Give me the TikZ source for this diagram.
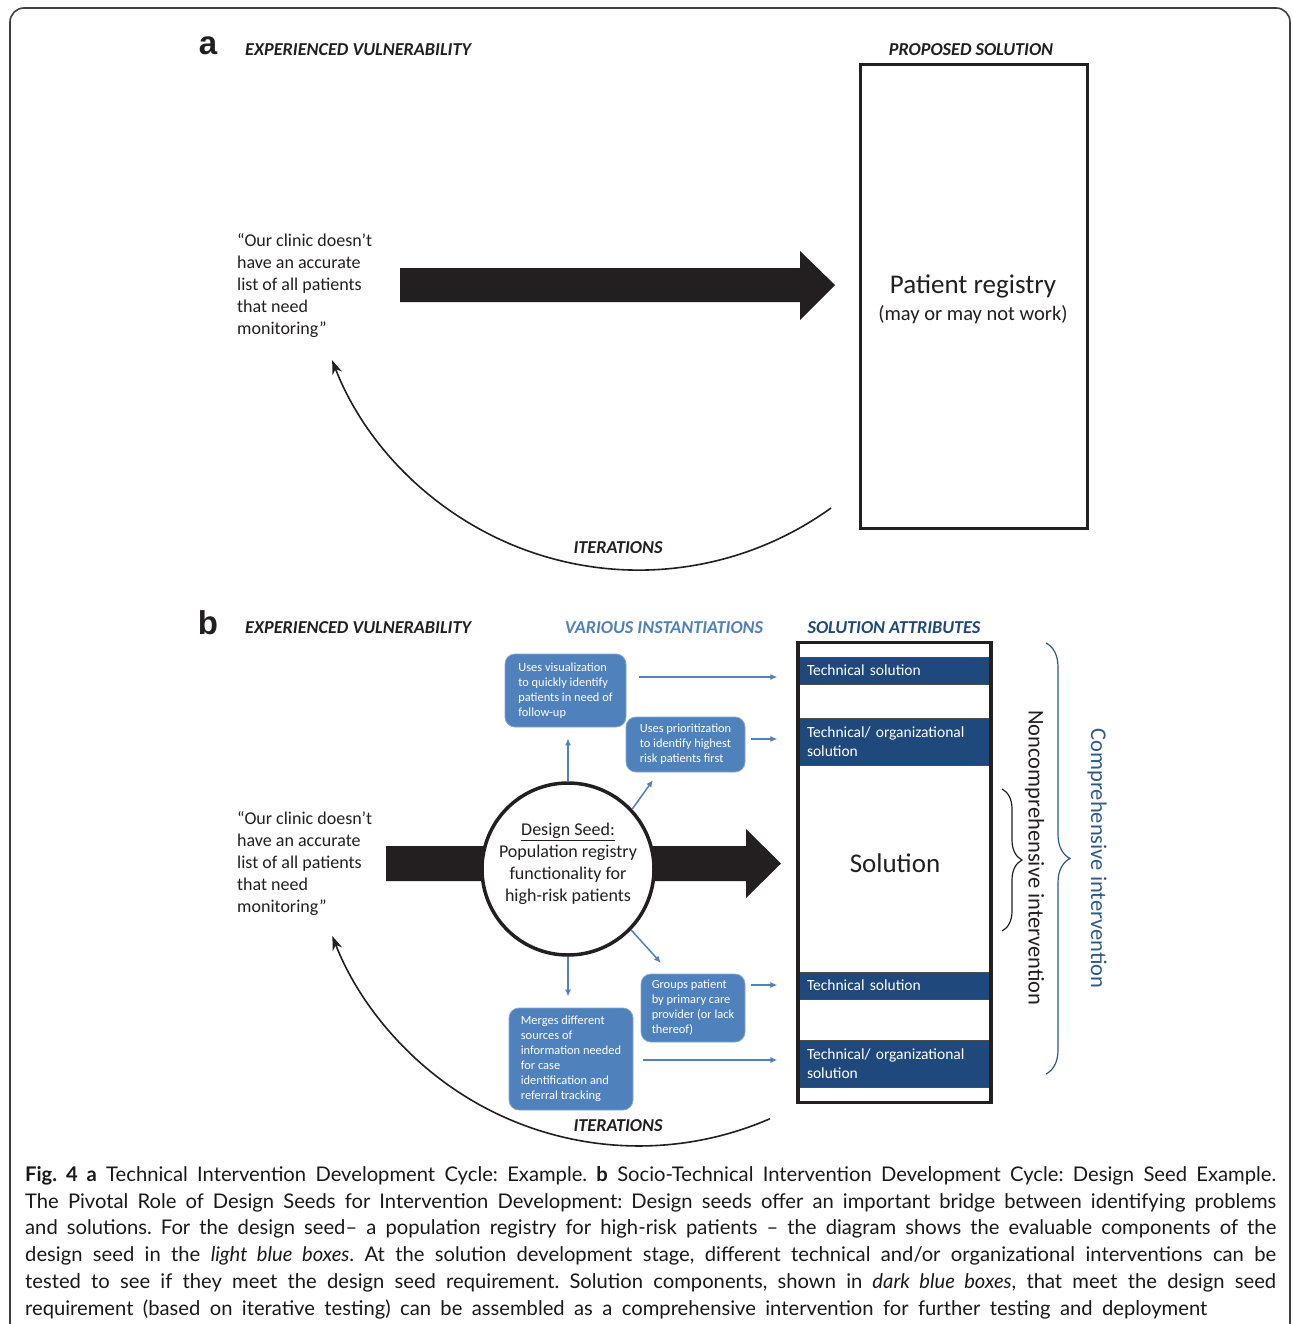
\documentclass[tikz,border=0pt]{standalone}
\usepackage{fontspec}
\setmainfont{Carlito}
\newfontfamily\arialf{Liberation Sans}
\newfontfamily\capf{Lato}
\usetikzlibrary{arrows.meta,decorations.pathreplacing,calc}
\definecolor{blueL}{HTML}{4F81BD}
\definecolor{blueD}{HTML}{1F497D}
\definecolor{blueC}{HTML}{2C5A8E}
\definecolor{ink}{HTML}{231F20}
\newcommand{\capline}[2]{\hbox to #1{\spaceskip=0pt\xspaceskip=0pt #2}}
\begin{document}
\begin{tikzpicture}[x=1pt,y=-1pt,
  frame/.style={draw=black!75, line width=1.6pt},
  panel/.style={font=\arialf\bfseries\fontsize{33}{36}\selectfont, inner sep=0, text=ink},
  hdr/.style={font=\fontsize{18.2}{20}\selectfont\bfseries\itshape, inner sep=0, text=ink},
  quote/.style={font=\fontsize{18}{22}\selectfont, align=left, inner sep=0, text=ink},
  iter/.style={draw=ink, line width=1.6pt, -{Stealth[length=14pt,width=10pt]}},
  blarrow/.style={draw=blueL, line width=1.5pt, -{Latex[length=7pt,width=6pt]}},
  lbox/.style={fill=blueL, draw=blueL!70!white, line width=0.8pt, rounded corners=10pt, text=white, align=left, inner sep=0, font=\fontsize{12.4}{15}\selectfont},
  bar/.style={fill=blueD, draw=black!70, line width=0.8pt, text=white, minimum width=193pt, text width=175pt, align=left, inner xsep=9pt, inner ysep=0pt, font=\fontsize{15.5}{19}\selectfont},
  brc/.style={line width=1.2pt, decorate},
  rlabel/.style={rotate=-90, inner sep=0, font=\fontsize{22.5}{26}\selectfont}
]
\useasboundingbox (0,0) rectangle (1292,1324);
\fill[white] (0,0) rectangle (1292,1324);
% outer frame
\draw[frame] (10,1340) -- (10,22) arc[start angle=180, end angle=270, radius=14] -- (1276,8) arc[start angle=270, end angle=360, radius=14] -- (1290,1340);

% ================= panel a =================
\node[panel] (lblA) at (208,46) {a};
\node[hdr, anchor=west] (hdrA) at (245,50) {EXPERIENCED VULNERABILITY};
\node[hdr] (propA) at (971,50) {PROPOSED SOLUTION};
\node[quote, anchor=west] (qa) at (237,285.5) {“Our clinic doesn’t\\have an accurate\\list of all patients\\that need\\monitoring”};
\node[draw=ink, line width=3pt, minimum width=227pt, minimum height=463pt, inner sep=0] (reg) at (973.5,296.5) {};
\node[inner sep=0, font=\fontsize{27}{30}\selectfont, text=ink] (regT1) at (973,286) {Patient registry};
\node[inner sep=0, font=\fontsize{20.5}{24}\selectfont, text=ink] (regT2) at (973,315) {(may or may not work)};
% big arrow a
\coordinate (bigA) at (400,285);
\fill[ink] (bigA) ++(0,-17) -- ++(400,0) -- ++(0,-17) -- (835,285) -- (800,320) -- (800,302) -- (400,302) -- cycle;
% iterations a
\coordinate (itA) at (831,508);
\draw[iter] (itA) arc[start angle=54.2, end angle=158.8, radius=328.8];
\node[hdr] (iterA) at (618,548) {ITERATIONS};

% ================= panel b =================
\node[panel] (lblB) at (208,623) {b};
\node[hdr, anchor=west] (hdrB) at (245,628) {EXPERIENCED VULNERABILITY};
\node[hdr, text=blueL] (instB) at (664,628) {VARIOUS INSTANTIATIONS};
\node[hdr, text=blueD] (attrB) at (894,628) {SOLUTION ATTRIBUTES};
\node[quote, anchor=west] (qb) at (237,863.5) {“Our clinic doesn’t\\have an accurate\\list of all patients\\that need\\monitoring”};
% big arrow b
\coordinate (bigB) at (386,863.5);
\fill[ink] (bigB) ++(0,-17.5) -- (746,846) -- (746,829) -- (781,863.5) -- (746,898) -- (746,881) -- (386,881) -- cycle;
% design seed
\node[circle, draw=ink, line width=3.5pt, fill=white, minimum size=172pt, inner sep=0] (seed) at (568,869) {};
\node[quote, align=center] (seedT) at (568,863.5) {\underline{Design Seed:}\\Population registry\\functionality for\\high-risk patients};

% light blue boxes
\node[lbox, minimum width=121pt, minimum height=73pt] (box1) at (565.5,690.5) {Uses visualization\\to quickly identify\\patients in need of\\follow-up};
\node[lbox, minimum width=119pt, minimum height=55pt] (box2) at (685.5,744.5) {Uses prioritization\\to identify highest\\risk patients first};
\node[lbox, minimum width=104pt, minimum height=68pt] (box3) at (693,1008) {Groups patient\\by primary care\\provider (or lack\\thereof)};
\node[lbox, minimum width=124pt, minimum height=102pt] (box4) at (571,1059) {Merges different\\sources of\\information needed\\for case\\identification and\\referral tracking};

% solution column
\node[bar, minimum height=27pt] (bar1) at (894.5,670.5) {Technical solution};
\node[bar, minimum height=47pt] (bar2) at (894.5,741.5) {Technical/ organizational\\solution};
\node[bar, minimum height=27pt] (bar3) at (894.5,985.5) {Technical solution};
\node[bar, minimum height=47pt] (bar4) at (894.5,1063.5) {Technical/ organizational\\solution};
\node[draw=ink, line width=3.2pt, minimum width=193pt, minimum height=460pt, inner sep=0] (col) at (894.5,872.5) {};
\node[inner sep=0, font=\fontsize{27}{30}\selectfont, text=ink] (solT) at (895,863) {Solution};

% arrows from seed
\draw[blarrow, shorten >=11pt] (seed.north) -- (seed.north |- box1.south);
\coordinate (b2pt) at (653,780);
\draw[blarrow] (seed.43) -- (b2pt);
\coordinate (b3pt) at (661,963);
\draw[blarrow] (seed.-44) -- (b3pt);
\draw[blarrow, shorten >=11pt] (seed.south) -- (seed.south |- box4.north);

% arrows to column
\coordinate (r1) at ($(box1.east)+(13,-13.5)$);
\coordinate (r2) at ($(box2.east)+(6,-5.5)$);
\coordinate (r3) at ($(box3.east)+(6,-23)$);
\coordinate (r4) at ($(box4.east)+(10,1)$);
\draw[blarrow, shorten >=19pt] (r1) -- (r1 -| col.west);
\draw[blarrow, shorten >=19pt] (r2) -- (r2 -| col.west);
\draw[blarrow, shorten >=19pt] (r3) -- (r3 -| col.west);
\draw[blarrow, shorten >=19pt] (r4) -- (r4 -| col.west);

% braces and rotated labels
\draw[brc, draw=ink, decoration={brace, amplitude=20pt}] (1002,789) -- (1002,931);
\draw[brc, draw=blueC, decoration={brace, amplitude=24pt}] (1046,643) -- (1046,1074);
\node[rlabel, text=ink] (noncomp) at (1034.5,858) {Noncomprehensive intervention};
\node[rlabel, text=blueC] (comp) at (1097,858.5) {Comprehensive intervention};

% iterations b
\coordinate (itB) at (770,1118.7);
\draw[iter] (itB) arc[start angle=66.5, end angle=158.8, radius=328.8];
\node[hdr] (iterB) at (618,1126) {ITERATIONS};

% caption
\node[anchor=north west, inner sep=0, text width=1251pt, align=justify, text=black!90, font=\capf\fontsize{20.2}{26.8}\selectfont\frenchspacing] (cap) at (25,1166) {%
\capline{1251pt}{\textbf{Fig. 4 a} Technical Intervention Development Cycle: Example. \textbf{b} Socio-Technical Intervention Development Cycle: Design Seed Example.}
\capline{1251pt}{The Pivotal Role of Design Seeds for Intervention Development: Design seeds offer an important bridge between identifying problems}
\capline{1251pt}{and solutions. For the design seed– a population registry for high-risk patients – the diagram shows the evaluable components of the}
\capline{1251pt}{design seed in the \textit{light blue boxes}. At the solution development stage, different technical and/or organizational interventions can be}
\capline{1251pt}{tested to see if they meet the design seed requirement. Solution components, shown in \textit{dark blue boxes}, that meet the design seed}
\capline{1182pt}{requirement (based on iterative testing) can be assembled as a comprehensive intervention for further testing and deployment}};
\end{tikzpicture}
\end{document}
